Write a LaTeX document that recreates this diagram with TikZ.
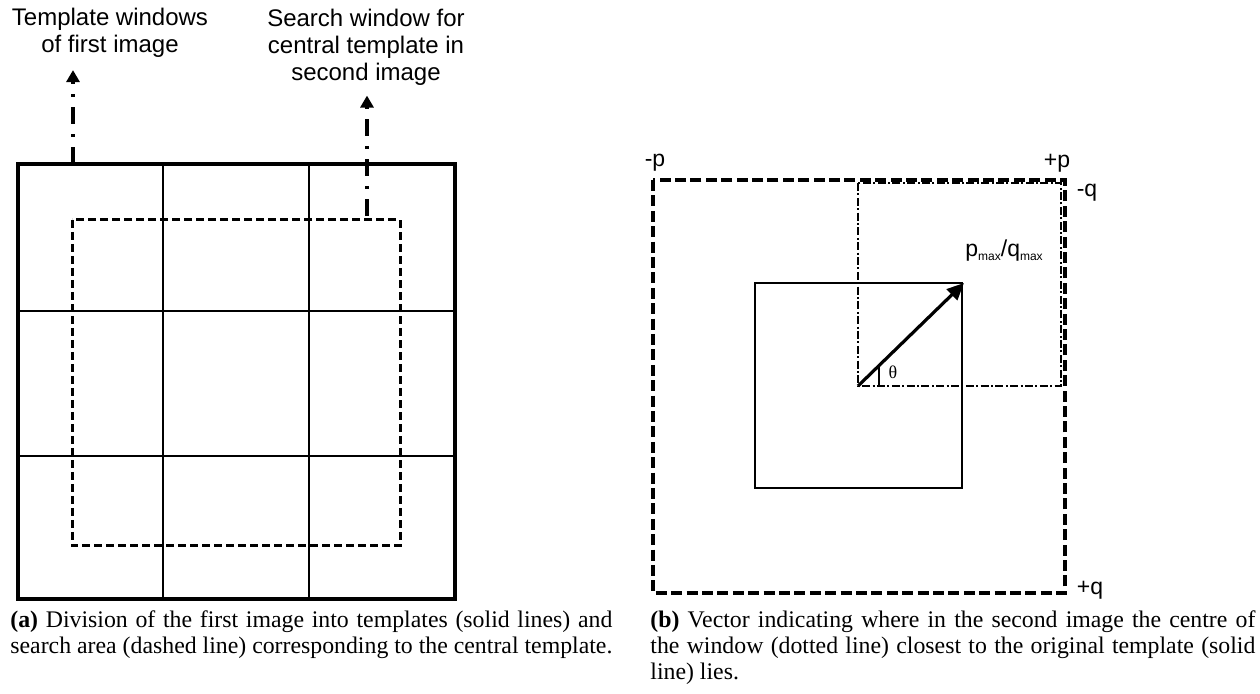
\documentclass[tikz,border=0pt]{standalone}
\usepackage{fontspec}
\setmainfont{Liberation Serif}
\newfontfamily\arial{Liberation Sans}
\usepackage{tikz}
\usetikzlibrary{arrows.meta,positioning,calc}

\tikzset{
  lbl/.style={font=\arial\fontsize{12}{13.5}\selectfont, align=center, inner sep=0pt},
  axis/.style={font=\arial\fontsize{11.5}{13}\selectfont, inner sep=0pt},
  captext/.style={font=\fontsize{11.9}{13}\selectfont, align=justify, inner sep=0pt, anchor=north west},
  frameline/.style={line width=2pt},
  gridline/.style={line width=1.2pt},
  searchline/.style={line width=1.5pt, dash pattern=on 4pt off 2pt},
  boundline/.style={line width=2pt, dash pattern=on 5.5pt off 2.2pt},
  windowline/.style={line width=1.2pt, dash pattern=on 4pt off 1.2pt on 1pt off 1.2pt},
  pointer/.style={line width=1.6pt, dash pattern=on 8.5pt off 5pt on 1.5pt off 5pt,
    -{Triangle[length=6pt, width=6.5pt]}},
}

\begin{document}
\begin{tikzpicture}[x=0.5pt, y=-0.5pt]
  \useasboundingbox (0,0) rectangle (1260,694);

  % (a) templates of the first image
  \draw[frameline] (18,164) rectangle (455,599);
  \foreach \gx in {163,309}
    \draw[gridline] (\gx,164) -- (\gx,599);
  \foreach \gy in {311,456}
    \draw[gridline] (18,\gy) -- (455,\gy);
  \draw[searchline] (72,220) rectangle (400,546);

  \coordinate (tplfoot) at (73,164);
  \coordinate (srchfoot) at (367,216);
  \node[lbl] (tpl) at (110,33) {Template windows\\of first image};
  \node[lbl] (srch) at (366,47) {Search window for\\central template in\\second image};
  \draw[pointer, shorten >=6pt] (tplfoot) -- (tplfoot |- tpl.south);
  \draw[pointer, shorten >=5pt] (srchfoot) -- (srchfoot |- srch.south);

  \node[captext, text width=301pt] (capa) at (10,610)
    {\textbf{(a)} Division of the first image into templates (solid lines) and\linebreak
     search area (dashed line) corresponding to the central template.};

  % (b) displacement vector
  \draw[boundline] (653,180) rectangle (1065,593);
  \draw[line width=1.4pt] (755,283) rectangle (962,488);
  \draw[windowline] (858,183) rectangle (1061,386);

  \coordinate (ctr) at (858,386);
  \coordinate (best) at (964,283);
  \draw[line width=1.6pt, -{Triangle[length=8.5pt, width=7.5pt]}] (ctr) -- (best);
  \coordinate (tick) at ($(ctr)!0.2!(best)$);
  \draw[line width=0.9pt] (tick) -- (tick |- ctr);
  \node[font=\fontsize{9}{10}\selectfont, inner sep=0pt] (theta) at (893,372) {θ};

  \node[axis, anchor=base west] (pq) at (965,257)
    {p\raisebox{-0.3ex}{\fontsize{6}{6}\selectfont max}/q\raisebox{-0.3ex}{\fontsize{6}{6}\selectfont max}};
  \node[axis] (mp) at (655,163) {-p};
  \node[axis] (pp) at (1057,163) {+p};
  \node[axis] (mq) at (1087,193) {-q};
  \node[axis] (pq2) at (1090,590) {+q};

  \node[captext, text width=302.5pt] (capb) at (650,610)
    {\textbf{(b)} Vector indicating where in the second image the centre of\linebreak
     the window (dotted line) closest to the original template (solid\linebreak
     line) lies.};
\end{tikzpicture}
\end{document}
